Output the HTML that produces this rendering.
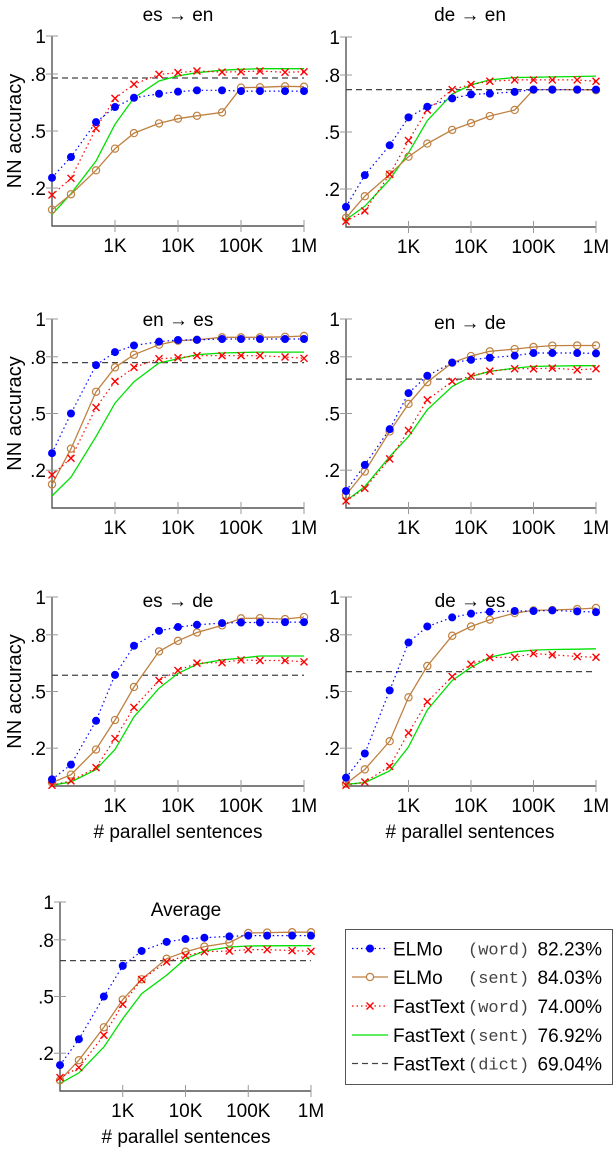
<!DOCTYPE html>
<html><head><meta charset="utf-8"><style>
html,body{margin:0;padding:0;background:#fff;}
svg{display:block;font-family:"Liberation Sans",sans-serif;}
.mono{font-family:"Liberation Mono",monospace;}
</style></head><body>
<svg id="fig" width="614" height="1150" viewBox="0 0 614 1150" xmlns="http://www.w3.org/2000/svg"></svg>
<script>
const xCategories = [100,200,500,1000,2000,5000,10000,20000,50000,100000,200000,500000,1000000];
const xTickValues = [1000,10000,100000,1000000];
const xTickLabels = ["1K","10K","100K","1M"];
const yTickValues = [1,0.8,0.5,0.2];
const yTickLabels = ["1",".8",".5",".2"];
const panelTitles = ["es → en","de → en","en → es","en → de","es → de","de → es","Average"];

const elmoWord = [
 [0.254,0.363,0.547,0.626,0.675,0.696,0.707,0.714,0.714,0.71,0.71,0.71,0.71],
 [0.106,0.273,0.43,0.577,0.633,0.677,0.698,0.702,0.711,0.723,0.723,0.723,0.723],
 [0.29,0.5,0.756,0.825,0.86,0.88,0.889,0.89,0.894,0.894,0.894,0.894,0.894],
 [0.09,0.228,0.417,0.608,0.7,0.769,0.784,0.795,0.806,0.82,0.82,0.82,0.818],
 [0.035,0.113,0.345,0.588,0.742,0.821,0.841,0.853,0.862,0.865,0.865,0.867,0.867],
 [0.044,0.172,0.506,0.759,0.844,0.892,0.912,0.922,0.926,0.926,0.929,0.924,0.92],
 [0.137,0.274,0.5,0.662,0.741,0.789,0.804,0.811,0.818,0.822,0.822,0.822,0.822]];
const elmoSent = [
 [0.086,0.167,0.293,0.407,0.489,0.54,0.565,0.58,0.598,0.728,0.73,0.735,0.733],
 [0.048,0.162,0.277,0.37,0.439,0.511,0.547,0.584,0.616,0.723,0.723,0.723,0.72],
 [0.125,0.314,0.615,0.744,0.811,0.864,0.885,0.89,0.903,0.903,0.903,0.906,0.91],
 [0.069,0.193,0.405,0.551,0.666,0.769,0.804,0.829,0.841,0.852,0.859,0.86,0.86],
 [0.018,0.06,0.193,0.349,0.524,0.712,0.768,0.812,0.85,0.887,0.888,0.883,0.894],
 [0.012,0.088,0.237,0.469,0.635,0.795,0.844,0.88,0.915,0.929,0.931,0.936,0.942],
 [0.057,0.163,0.337,0.484,0.591,0.70,0.737,0.764,0.785,0.836,0.838,0.84,0.84]];
const ftWord = [
 [0.163,0.251,0.514,0.672,0.746,0.798,0.807,0.816,0.81,0.812,0.816,0.809,0.812],
 [0.03,0.085,0.277,0.455,0.616,0.723,0.75,0.767,0.774,0.774,0.774,0.774,0.767],
 [0.175,0.263,0.532,0.67,0.744,0.79,0.795,0.806,0.806,0.806,0.806,0.799,0.792],
 [0.037,0.104,0.26,0.41,0.572,0.67,0.698,0.724,0.737,0.737,0.74,0.731,0.737],
 [0.004,0.027,0.097,0.251,0.416,0.558,0.611,0.65,0.653,0.667,0.664,0.664,0.657],
 [0.004,0.021,0.104,0.281,0.446,0.579,0.644,0.68,0.681,0.701,0.694,0.685,0.681],
 [0.071,0.124,0.295,0.459,0.59,0.683,0.716,0.737,0.741,0.748,0.748,0.743,0.739]];
const ftSent = [
 [0.061,0.17,0.342,0.535,0.675,0.763,0.79,0.807,0.82,0.825,0.828,0.828,0.828],
 [0.039,0.109,0.25,0.39,0.56,0.70,0.748,0.774,0.787,0.788,0.79,0.792,0.794],
 [0.064,0.163,0.378,0.555,0.668,0.767,0.79,0.811,0.82,0.823,0.825,0.825,0.825],
 [0.037,0.113,0.272,0.378,0.52,0.643,0.696,0.723,0.74,0.749,0.751,0.753,0.753],
 [0.004,0.021,0.087,0.193,0.366,0.517,0.596,0.644,0.667,0.676,0.688,0.688,0.688],
 [0.009,0.018,0.08,0.207,0.402,0.558,0.628,0.681,0.71,0.719,0.722,0.724,0.726],
 [0.04,0.096,0.233,0.383,0.515,0.612,0.70,0.741,0.762,0.767,0.768,0.769,0.769]];
const ftDict = [0.779,0.723,0.769,0.682,0.586,0.605,0.69];

const legendNames = ["ELMo","ELMo","FastText","FastText","FastText"];
const legendKinds = ["(word)","(sent)","(word)","(sent)","(dict)"];
const legendScores = ["82.23%","84.03%","74.00%","76.92%","69.04%"];

const NS = "http://www.w3.org/2000/svg";
const svg = document.getElementById('fig');
function mk(tag, attrs, parent){
  const e = document.createElementNS(NS, tag);
  for (const k in attrs) e.setAttribute(k, attrs[k]);
  (parent||svg).appendChild(e);
  return e;
}
const FS = 19;
const panels = [
 {x0:52,x1:304,y0:36,y1:226,tY:21,tx:178,yl:true,xl:false},
 {x0:346,x1:596,y0:37,y1:227,tY:21,tx:470,yl:false,xl:false},
 {x0:52,x1:304,y0:319,y1:508,tY:326,tx:178,yl:true,xl:false},
 {x0:346,x1:596,y0:319,y1:508,tY:329,tx:470,yl:false,xl:false},
 {x0:52,x1:304,y0:597,y1:786,tY:607,tx:178,yl:true,xl:true},
 {x0:346,x1:596,y0:597,y1:786,tY:607,tx:470,yl:false,xl:true},
 {x0:60,x1:311,y0:902,y1:1091,tY:916,tx:186,yl:false,xl:true}];
const BLUE="#0000ff", BROWN="#bf8040", RED="#ff0000", GREEN="#00e000", DASH="#444";

panels.forEach((p,i)=>{
  const g = mk('g',{});
  
  
  const xs = v => p.x0 + (Math.log10(v)-2)/4*(p.x1-p.x0);
  const ys = v => p.y1 - v*(p.y1-p.y0);
  const ax = mk('path',{d:`M${p.x0},${p.y0} V${p.y1} H${p.x1}`,fill:'none',stroke:'#555','stroke-width':1.4},g);
  
  
  yTickValues.forEach((v,j)=>{
    mk('line',{x1:p.x0-6,x2:p.x0+6,y1:ys(v),y2:ys(v),stroke:'#999','stroke-width':1},g);
    const t = mk('text',{x:p.x0-6,y:ys(v)+7,'text-anchor':'end','font-size':FS,fill:'#000'},g);
    t.textContent = yTickLabels[j];
    
    
  });
  xTickValues.forEach((v,j)=>{
    mk('line',{x1:xs(v),x2:xs(v),y1:p.y1-6,y2:p.y1+6,stroke:'#999','stroke-width':1},g);
    const t = mk('text',{x:xs(v),y:p.y1+26,'text-anchor':'middle','font-size':FS,fill:'#000'},g);
    t.textContent = xTickLabels[j];
    
    
  });
  const tt = mk('text',{x:p.tx,y:p.tY,'text-anchor':'middle','font-size':FS,fill:'#000'},g);
  tt.textContent = panelTitles[i];
  
  
  if (p.yl){
    const cy=(p.y0+p.y1)/2;
    const yt = mk('text',{x:0,y:0,transform:`translate(21,${cy}) rotate(-90)`,'text-anchor':'middle','font-size':FS+1,fill:'#000'},g);
    yt.textContent = 'NN accuracy';
    
    
  }
  if (p.xl){
    const xt = mk('text',{x:p.tx,y:p.y1+52,'text-anchor':'middle','font-size':FS,fill:'#000'},g);
    xt.textContent = '# parallel sentences';
    
    
  }
  const dl = mk('line',{x1:p.x0,x2:p.x1,y1:ys(ftDict[i]),y2:ys(ftDict[i]),stroke:DASH,'stroke-width':1.2,'stroke-dasharray':'6,4'},g);
  
  
  const pts = arr => arr.map((v,k)=>xs(xCategories[k]).toFixed(1)+','+ys(v).toFixed(1)).join(' ');
  const gl = mk('polyline',{points:pts(ftSent[i]),fill:'none',stroke:GREEN,'stroke-width':1.3},g);
  
  
  const bl = mk('polyline',{points:pts(elmoSent[i]),fill:'none',stroke:BROWN,'stroke-width':1.3},g);
  
  
  const rl = mk('polyline',{points:pts(ftWord[i]),fill:'none',stroke:RED,'stroke-width':1.2,'stroke-dasharray':'1.5,3'},g);
  
  
  const ul = mk('polyline',{points:pts(elmoWord[i]),fill:'none',stroke:BLUE,'stroke-width':1.2,'stroke-dasharray':'1.5,3'},g);
  
  
  xCategories.forEach((c,k)=>{
    const cx=xs(c);
    const o = mk('circle',{cx:cx,cy:ys(elmoSent[i][k]),r:3.6,fill:'none',stroke:BROWN,'stroke-width':1.2},g);
    
    
    const yr=ys(ftWord[i][k]);
    const x = mk('path',{d:`M${cx-3.5},${yr-3.5}L${cx+3.5},${yr+3.5}M${cx-3.5},${yr+3.5}L${cx+3.5},${yr-3.5}`,stroke:RED,'stroke-width':1.4,fill:'none'},g);
    
    
    const b = mk('circle',{cx:cx,cy:ys(elmoWord[i][k]),r:4,fill:BLUE},g);
    
    
  });
});

const lg = mk('g',{});


mk('rect',{x:345.5,y:929.5,width:267,height:155,fill:'#fff',stroke:'#555','stroke-width':1},lg);
const rowY=[948.5,977,1006,1035,1063.5];
const styles=[
 {stroke:BLUE,dash:'1.5,3'},{stroke:BROWN,dash:''},{stroke:RED,dash:'1.5,3'},{stroke:GREEN,dash:''},{stroke:DASH,dash:'6,4'}];
legendNames.forEach((n,k)=>{
  const y=rowY[k];
  const e = mk('g',{},lg);
  
  
  const l = mk('line',{x1:352,x2:388,y1:y,y2:y,stroke:styles[k].stroke,'stroke-width':1.3},e);
  if (styles[k].dash) l.setAttribute('stroke-dasharray',styles[k].dash);
  if (k==0) mk('circle',{cx:370,cy:y,r:4,fill:BLUE},e);
  if (k==1) mk('circle',{cx:370,cy:y,r:3.6,fill:'#fff',stroke:BROWN,'stroke-width':1.2},e);
  if (k==2) mk('path',{d:`M366.5,${y-3.5}L373.5,${y+3.5}M366.5,${y+3.5}L373.5,${y-3.5}`,stroke:RED,'stroke-width':1.4},e);
  const t1=mk('text',{x:393,y:y+7,'font-size':FS,fill:'#000'},e); t1.textContent=n;
  const t2=mk('text',{x:468,y:y+6,'font-size':17,fill:'#444',class:'mono'},e); t2.textContent=legendKinds[k];
  const t3=mk('text',{x:602,y:y+7,'font-size':FS,fill:'#000','text-anchor':'end'},e); t3.textContent=legendScores[k];
});
</script>
</body></html>
